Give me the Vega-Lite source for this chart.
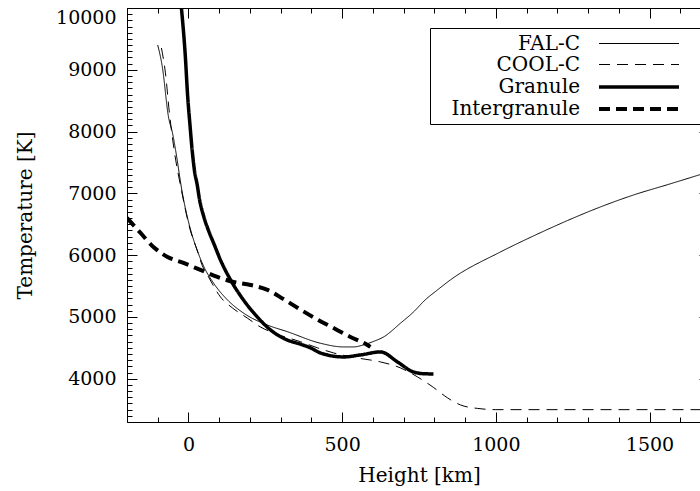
{
  "$schema": "https://vega.github.io/schema/vega-lite/v6.json",
  "width": 584,
  "height": 414,
  "autosize": {"type": "none"},
  "padding": {"left": 127, "top": 8, "right": -11, "bottom": 69},
  "background": "white",
  "config": {
    "view": {"stroke": "black", "strokeWidth": 1},
    "axis": {
      "grid": false,
      "domain": false,
      "tickColor": "black",
      "tickWidth": 1,
      "labelColor": "black",
      "titleColor": "black",
      "labelFont": "DejaVu Serif",
      "titleFont": "DejaVu Serif",
      "labelFontSize": 19,
      "titleFontSize": 20,
      "titleFontWeight": "normal",
      "format": "d"
    },
    "legend": {
      "orient": "none",
      "legendX": 303,
      "legendY": 20,
      "strokeColor": "black",
      "fillColor": "white",
      "padding": 5,
      "labelFont": "DejaVu Serif",
      "labelFontSize": 20,
      "labelColor": "black",
      "labelAlign": "right",
      "labelOffset": -71,
      "symbolOffset": 192,
      "symbolType": "M-4,0H4",
      "symbolSize": 400,
      "symbolStrokeColor": "black",
      "symbolFillColor": "transparent",
      "rowPadding": 0,
      "titleOrient": "right",
      "titleFontSize": 1,
      "titlePadding": 13
    }
  },
  "data": {
    "values": [
      {"model": "FAL-C", "h": -100, "T": 9400},
      {"model": "FAL-C", "h": -85, "T": 9045},
      {"model": "FAL-C", "h": -65, "T": 8236},
      {"model": "FAL-C", "h": -52, "T": 7978},
      {"model": "FAL-C", "h": -42, "T": 7702},
      {"model": "FAL-C", "h": -20, "T": 7007},
      {"model": "FAL-C", "h": 7, "T": 6408},
      {"model": "FAL-C", "h": 28, "T": 6084},
      {"model": "FAL-C", "h": 50, "T": 5814},
      {"model": "FAL-C", "h": 82, "T": 5545},
      {"model": "FAL-C", "h": 127, "T": 5275},
      {"model": "FAL-C", "h": 180, "T": 5060},
      {"model": "FAL-C", "h": 256, "T": 4871},
      {"model": "FAL-C", "h": 321, "T": 4763},
      {"model": "FAL-C", "h": 429, "T": 4575},
      {"model": "FAL-C", "h": 504, "T": 4515},
      {"model": "FAL-C", "h": 537, "T": 4515},
      {"model": "FAL-C", "h": 569, "T": 4547},
      {"model": "FAL-C", "h": 600, "T": 4600},
      {"model": "FAL-C", "h": 635, "T": 4677},
      {"model": "FAL-C", "h": 690, "T": 4900},
      {"model": "FAL-C", "h": 732, "T": 5080},
      {"model": "FAL-C", "h": 770, "T": 5275},
      {"model": "FAL-C", "h": 810, "T": 5437},
      {"model": "FAL-C", "h": 852, "T": 5599},
      {"model": "FAL-C", "h": 1015, "T": 6052},
      {"model": "FAL-C", "h": 1122, "T": 6310},
      {"model": "FAL-C", "h": 1233, "T": 6560},
      {"model": "FAL-C", "h": 1340, "T": 6780},
      {"model": "FAL-C", "h": 1448, "T": 6974},
      {"model": "FAL-C", "h": 1558, "T": 7140},
      {"model": "FAL-C", "h": 1662, "T": 7300},
      {"model": "FAL-C", "h": 1700, "T": 7360},
      {"model": "COOL-C", "h": -88, "T": 9353},
      {"model": "COOL-C", "h": -75, "T": 8950},
      {"model": "COOL-C", "h": -62, "T": 8300},
      {"model": "COOL-C", "h": -48, "T": 7750},
      {"model": "COOL-C", "h": -22, "T": 7030},
      {"model": "COOL-C", "h": 5, "T": 6420},
      {"model": "COOL-C", "h": 28, "T": 6084},
      {"model": "COOL-C", "h": 45, "T": 5830},
      {"model": "COOL-C", "h": 65, "T": 5650},
      {"model": "COOL-C", "h": 104, "T": 5324},
      {"model": "COOL-C", "h": 143, "T": 5146},
      {"model": "COOL-C", "h": 191, "T": 4984},
      {"model": "COOL-C", "h": 234, "T": 4838},
      {"model": "COOL-C", "h": 277, "T": 4741},
      {"model": "COOL-C", "h": 364, "T": 4600},
      {"model": "COOL-C", "h": 420, "T": 4500},
      {"model": "COOL-C", "h": 472, "T": 4418},
      {"model": "COOL-C", "h": 549, "T": 4337},
      {"model": "COOL-C", "h": 625, "T": 4272},
      {"model": "COOL-C", "h": 690, "T": 4175},
      {"model": "COOL-C", "h": 745, "T": 4030},
      {"model": "COOL-C", "h": 797, "T": 3860},
      {"model": "COOL-C", "h": 843, "T": 3690},
      {"model": "COOL-C", "h": 885, "T": 3576},
      {"model": "COOL-C", "h": 940, "T": 3520},
      {"model": "COOL-C", "h": 1000, "T": 3500},
      {"model": "COOL-C", "h": 1700, "T": 3500},
      {"model": "Granule", "h": -23, "T": 10000},
      {"model": "Granule", "h": -10, "T": 9200},
      {"model": "Granule", "h": -3, "T": 8600},
      {"model": "Granule", "h": 5, "T": 8100},
      {"model": "Granule", "h": 12, "T": 7700},
      {"model": "Granule", "h": 20, "T": 7350},
      {"model": "Granule", "h": 28, "T": 7150},
      {"model": "Granule", "h": 36, "T": 6900},
      {"model": "Granule", "h": 50, "T": 6620},
      {"model": "Granule", "h": 65, "T": 6400},
      {"model": "Granule", "h": 82, "T": 6193},
      {"model": "Granule", "h": 104, "T": 5923},
      {"model": "Granule", "h": 137, "T": 5599},
      {"model": "Granule", "h": 179, "T": 5275},
      {"model": "Granule", "h": 224, "T": 5000},
      {"model": "Granule", "h": 267, "T": 4790},
      {"model": "Granule", "h": 321, "T": 4628},
      {"model": "Granule", "h": 364, "T": 4560},
      {"model": "Granule", "h": 397, "T": 4500},
      {"model": "Granule", "h": 429, "T": 4418},
      {"model": "Granule", "h": 504, "T": 4353},
      {"model": "Granule", "h": 560, "T": 4386},
      {"model": "Granule", "h": 625, "T": 4434},
      {"model": "Granule", "h": 680, "T": 4272},
      {"model": "Granule", "h": 732, "T": 4110},
      {"model": "Granule", "h": 770, "T": 4080},
      {"model": "Granule", "h": 797, "T": 4078},
      {"model": "Intergranule", "h": -200, "T": 6603},
      {"model": "Intergranule", "h": -156, "T": 6360},
      {"model": "Intergranule", "h": -114, "T": 6133},
      {"model": "Intergranule", "h": -68, "T": 5971},
      {"model": "Intergranule", "h": -16, "T": 5874},
      {"model": "Intergranule", "h": 39, "T": 5761},
      {"model": "Intergranule", "h": 94, "T": 5648},
      {"model": "Intergranule", "h": 146, "T": 5567},
      {"model": "Intergranule", "h": 202, "T": 5518},
      {"model": "Intergranule", "h": 257, "T": 5437},
      {"model": "Intergranule", "h": 309, "T": 5290},
      {"model": "Intergranule", "h": 364, "T": 5120},
      {"model": "Intergranule", "h": 419, "T": 4960},
      {"model": "Intergranule", "h": 472, "T": 4820},
      {"model": "Intergranule", "h": 527, "T": 4677},
      {"model": "Intergranule", "h": 582, "T": 4547},
      {"model": "Intergranule", "h": 592, "T": 4515}
    ]
  },
  "encoding": {
    "x": {"field": "h", "type": "quantitative", "scale": {"domain": [-200, 1700], "nice": false, "zero": false}},
    "y": {"field": "T", "type": "quantitative", "scale": {"domain": [3300, 10000], "nice": false, "zero": false}},
    "color": {"value": "black"},
    "strokeDash": {
      "field": "model", "type": "nominal",
      "scale": {"domain": ["FAL-C", "COOL-C", "Granule", "Intergranule"], "range": [[1, 0], [11, 7], [1, 0], [11, 6]]},
      "legend": {"title": " "}
    },
    "strokeWidth": {
      "field": "model", "type": "nominal",
      "scale": {"type": "ordinal", "domain": ["FAL-C", "COOL-C", "Granule", "Intergranule"], "range": [1, 1, 3.5, 4]},
      "legend": {"title": " "}
    }
  },
  "layer": [
    {
      "transform": [{"filter": "datum.model === 'FAL-C'"}],
      "mark": {"type": "line", "clip": true, "interpolate": "monotone"},
      "encoding": {
        "x": {"field": "h", "type": "quantitative", "axis": {"orient": "bottom", "offset": -10, "values": [0, 500, 1000, 1500], "tickSize": 10, "labelPadding": 13, "title": "Height [km]", "titleX": 292, "titleY": 63, "titleBaseline": "middle", "titleAlign": "center"}},
        "y": {"field": "T", "type": "quantitative", "axis": {"orient": "left", "offset": -10, "values": [4000, 5000, 6000, 7000, 8000, 9000, 10000], "tickSize": 10, "labelPadding": 11, "labelFlush": true, "title": "Temperature [K]", "titleX": -112, "titleY": 207, "titleAngle": -90, "titleBaseline": "middle", "titleAlign": "center"}}
      }
    },
    {
      "transform": [{"filter": "datum.model === 'COOL-C'"}],
      "mark": {"type": "line", "clip": true, "interpolate": "monotone"},
      "encoding": {
        "x": {"field": "h", "type": "quantitative", "axis": {"orient": "bottom", "offset": -5, "values": [-200, -100, 0, 100, 200, 300, 400, 500, 600, 700, 800, 900, 1000, 1100, 1200, 1300, 1400, 1500, 1600, 1700], "tickSize": 5, "labels": false, "title": null}},
        "y": {"field": "T", "type": "quantitative", "axis": {"orient": "left", "offset": -5, "values": [3300, 3400, 3500, 3600, 3700, 3800, 3900, 4000, 4100, 4200, 4300, 4400, 4500, 4600, 4700, 4800, 4900, 5000, 5100, 5200, 5300, 5400, 5500, 5600, 5700, 5800, 5900, 6000, 6100, 6200, 6300, 6400, 6500, 6600, 6700, 6800, 6900, 7000, 7100, 7200, 7300, 7400, 7500, 7600, 7700, 7800, 7900, 8000, 8100, 8200, 8300, 8400, 8500, 8600, 8700, 8800, 8900, 9000, 9100, 9200, 9300, 9400, 9500, 9600, 9700, 9800, 9900, 10000], "tickSize": 5, "labels": false, "title": null}}
      }
    },
    {
      "transform": [{"filter": "datum.model === 'Granule'"}],
      "mark": {"type": "line", "clip": true, "interpolate": "monotone"},
      "encoding": {
        "x": {"field": "h", "type": "quantitative", "axis": {"orient": "top", "offset": -10, "values": [0, 500, 1000, 1500], "tickSize": 10, "labels": false, "title": null}},
        "y": {"field": "T", "type": "quantitative", "axis": {"orient": "right", "offset": -12, "values": [4000, 5000, 6000, 7000, 8000, 9000, 10000], "tickSize": 12, "labels": false, "title": null}}
      }
    },
    {
      "transform": [{"filter": "datum.model === 'Intergranule'"}],
      "mark": {"type": "line", "clip": true, "interpolate": "monotone"},
      "encoding": {
        "x": {"field": "h", "type": "quantitative", "axis": {"orient": "top", "offset": -5, "values": [-200, -100, 0, 100, 200, 300, 400, 500, 600, 700, 800, 900, 1000, 1100, 1200, 1300, 1400, 1500, 1600, 1700], "tickSize": 5, "labels": false, "title": null}},
        "y": {"field": "T", "type": "quantitative", "axis": {"orient": "right", "offset": -5, "values": [3300, 3400, 3500, 3600, 3700, 3800, 3900, 4000, 4100, 4200, 4300, 4400, 4500, 4600, 4700, 4800, 4900, 5000, 5100, 5200, 5300, 5400, 5500, 5600, 5700, 5800, 5900, 6000, 6100, 6200, 6300, 6400, 6500, 6600, 6700, 6800, 6900, 7000, 7100, 7200, 7300, 7400, 7500, 7600, 7700, 7800, 7900, 8000, 8100, 8200, 8300, 8400, 8500, 8600, 8700, 8800, 8900, 9000, 9100, 9200, 9300, 9400, 9500, 9600, 9700, 9800, 9900, 10000], "tickSize": 5, "labels": false, "title": null}}
      }
    }
  ],
  "resolve": {"axis": {"x": "independent", "y": "independent"}}
}
